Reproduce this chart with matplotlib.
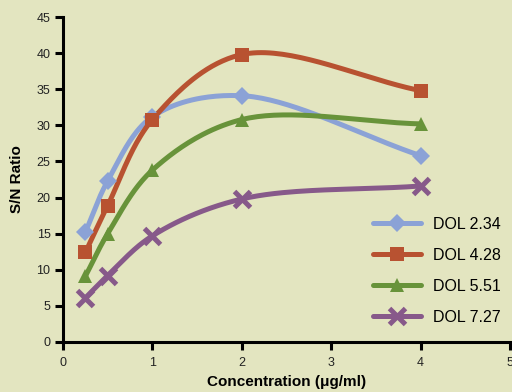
import numpy as np
import matplotlib
matplotlib.use("Agg")
import matplotlib.pyplot as plt
from matplotlib.lines import Line2D

plt.rcParams['font.family'] = ['Liberation Sans', 'DejaVu Sans']

concentration = [0.25, 0.5, 1, 2, 4]
dol_234 = [15.2, 22.3, 31.2, 34.1, 25.8]
dol_428 = [12.4, 18.9, 30.8, 39.8, 34.8]
dol_551 = [9.1, 15.0, 23.8, 30.8, 30.2]
dol_727 = [6.1, 9.2, 14.7, 19.8, 21.6]

labels = ["DOL 2.34", "DOL 4.28", "DOL 5.51", "DOL 7.27"]
colors = ["#8BA2D6", "#B85231", "#68933A", "#87598A"]
markers = ["D", "s", "^", "x"]
msizes = [9, 10, 10, 12]

BG = "#E3E5C0"


def smooth(xs, ys, sx, sy, n=40, alpha=0.5):
    """Centripetal Catmull-Rom curve through the points, in scaled space."""
    P = np.column_stack([np.asarray(xs) * sx, np.asarray(ys) * sy])
    P = np.vstack([P[0] - (P[1] - P[0]), P, P[-1] + (P[-1] - P[-2])])
    out = []
    for i in range(1, len(P) - 2):
        p0, p1, p2, p3 = P[i - 1], P[i], P[i + 1], P[i + 2]
        t0 = 0.0
        t1 = t0 + np.linalg.norm(p1 - p0) ** alpha
        t2 = t1 + np.linalg.norm(p2 - p1) ** alpha
        t3 = t2 + np.linalg.norm(p3 - p2) ** alpha
        t = np.linspace(t1, t2, n)[:, None]
        a1 = (t1 - t) / (t1 - t0) * p0 + (t - t0) / (t1 - t0) * p1
        a2 = (t2 - t) / (t2 - t1) * p1 + (t - t1) / (t2 - t1) * p2
        a3 = (t3 - t) / (t3 - t2) * p2 + (t - t2) / (t3 - t2) * p3
        b1 = (t2 - t) / (t2 - t0) * a1 + (t - t0) / (t2 - t0) * a2
        b2 = (t3 - t) / (t3 - t1) * a2 + (t - t1) / (t3 - t1) * a3
        seg = (t2 - t) / (t2 - t1) * b1 + (t - t1) / (t2 - t1) * b2
        out.append(seg if i == len(P) - 3 else seg[:-1])
    out = np.vstack(out)
    return out[:, 0] / sx, out[:, 1] / sy


fig = plt.figure(figsize=(5.12, 3.92), dpi=100, facecolor=BG)
ax = fig.add_axes([63 / 512, 1 - 342 / 392, 447 / 512, 325 / 392], facecolor=BG)

sx, sy = 447 / 5, 325 / 45
series = [dol_234, dol_428, dol_551, dol_727]
handles = []
for vals, lab, c, m, ms in zip(series, labels, colors, markers, msizes):
    cx, cy = smooth(concentration, vals, sx, sy)
    ax.plot(cx, cy, color=c, lw=3.6, solid_capstyle='round', zorder=2)
    mew = 3.6 if m == "x" else 0
    ax.plot(concentration, vals, ls='none', marker=m, ms=ms, mew=mew,
            color=c, zorder=3, clip_on=False)
    handles.append(Line2D([], [], color=c, lw=3.6, marker=m, ms=ms,
                          mew=mew, solid_capstyle='round'))

ax.set_xlim(0, 5)
ax.set_ylim(0, 45)
ax.set_xticks(range(0, 6))
ax.set_yticks(range(0, 46, 5))
for s in ["top", "right"]:
    ax.spines[s].set_visible(False)
for s in ["left", "bottom"]:
    ax.spines[s].set_linewidth(2.2)
    ax.spines[s].set_color("black")
ax.tick_params(axis='both', direction='out', length=6, width=2.2,
               labelsize=9, colors='black', labelcolor='#222222')
ax.tick_params(axis='y', pad=3)
ax.tick_params(axis='x', pad=5)

ax.set_xlabel("Concentration (μg/ml)", fontsize=11, fontweight='bold', labelpad=4)
ax.set_ylabel("S/N Ratio", fontsize=11, fontweight='bold', labelpad=9)

leg = ax.legend(handles, labels, loc='lower right', bbox_to_anchor=(1.0, 0.023),
                frameon=False, fontsize=11.5, handlelength=3.0, labelspacing=1.0,
                handletextpad=0.7, borderaxespad=0.2)

fig.savefig("out.png", dpi=100, facecolor=BG)
